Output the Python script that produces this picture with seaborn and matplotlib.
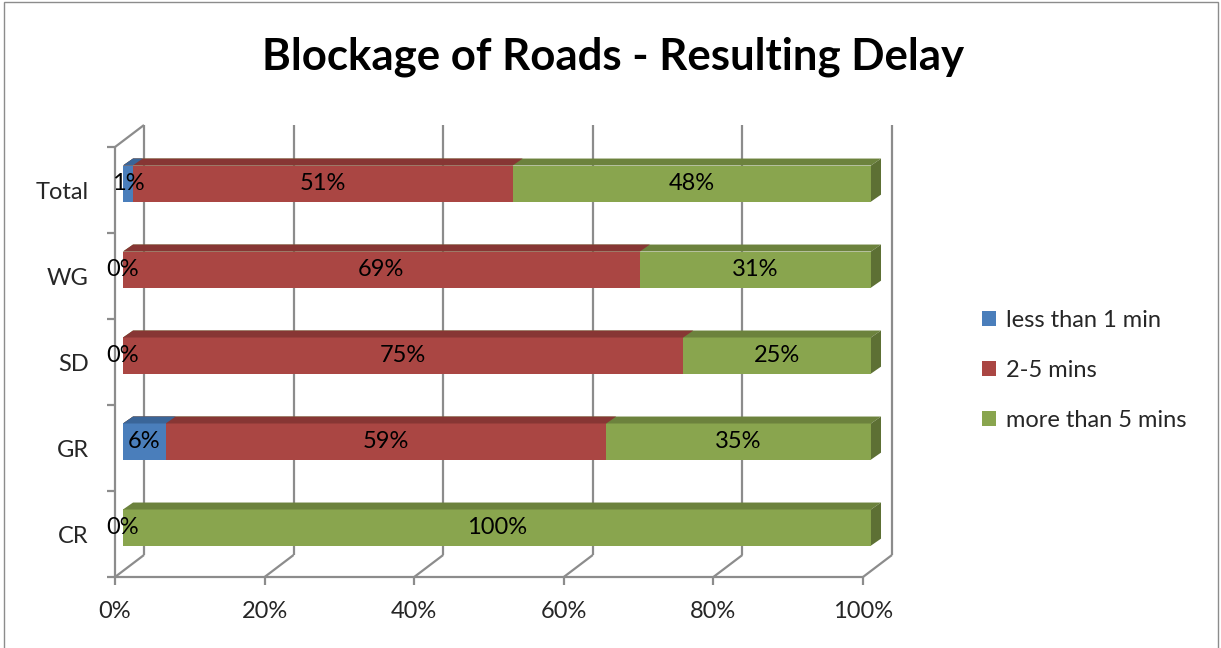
import seaborn as sns
import matplotlib.pyplot as plt
from matplotlib.patches import Polygon, Patch, Rectangle

# Chart data (percent of respondents per area)
categories = ["Total", "WG", "SD", "GR", "CR"]
series_names = ["less than 1 min", "2-5 mins", "more than 5 mins"]
less_than_1 = [1.3, 0.0, 0.0, 5.7, 0.0]
two_to_five = [50.8, 69.1, 74.9, 58.9, 0.0]
more_than_5 = [47.9, 30.9, 25.1, 35.4, 100.0]
x_ticks = [0, 20, 40, 60, 80, 100]
x_tick_labels = ["0%", "20%", "40%", "60%", "80%", "100%"]

# Colours: front face, top face, side face
front_cols = ["#4A7EBB", "#AA4643", "#89A54E"]
top_cols = ["#3A6598", "#873634", "#6C823D"]
side_col = "#5D7034"
frame_col = "#8C8C8C"

sns.set_style("white")
plt.rcParams["font.family"] = ["Lato", "DejaVu Sans"]
fs = 17

fig = plt.figure(figsize=(12.21, 6.48), dpi=100)
ax = fig.add_axes([115 / 1221, 71 / 648, 777 / 1221, 452 / 648])

# 3D depth (data units)
dx, dy = 3.88, -0.256       # back wall offset
ox, oy = 1.07, -0.075       # bar front face offset
tdx, tdy = 1.34, -0.081     # bar depth
bar_h = 0.42

# cumulative layers, drawn largest first so smaller ones sit on top
cum_green = [a + b + c for a, b, c in zip(less_than_1, two_to_five, more_than_5)]
cum_red = [a + b for a, b in zip(less_than_1, two_to_five)]
cum_blue = list(less_than_1)
layers = [cum_green, cum_red, cum_blue]
layer_cols = [2, 1, 0]

for k, (vals, ci) in enumerate(zip(layers, layer_cols)):
    n_before = len(ax.patches)
    sns.barplot(x=vals, y=categories, order=categories, orient="h",
                color=front_cols[ci], saturation=1, width=bar_h, ax=ax, zorder=3)
    for p in ax.patches[n_before:]:
        p.set_x(p.get_x() + ox)
        p.set_y(p.get_y() + oy)
        p.set_edgecolor("none")
        x0, w = p.get_x(), p.get_width()
        ytop = p.get_y()
        ybot = ytop + p.get_height()
        if w > 0:
            ax.add_patch(Polygon([(x0, ytop), (x0 + w, ytop), (x0 + w + tdx, ytop + tdy),
                                  (x0 + tdx, ytop + tdy)], closed=True,
                                 facecolor=top_cols[ci], edgecolor="none", zorder=3))
        if k == 0:
            ax.add_patch(Polygon([(x0 + w, ytop), (x0 + w + tdx, ytop + tdy),
                                  (x0 + w + tdx, ybot + tdy), (x0 + w, ybot)], closed=True,
                                 facecolor=side_col, edgecolor="none", zorder=3))

# value labels centred on each segment
series = [less_than_1, two_to_five, more_than_5]
for i in range(len(categories)):
    left = 0
    drawn = set()
    for s in series:
        v = s[i]
        pos = round(left + v / 2, 2)
        if pos not in drawn:
            ax.text(left + v / 2 + ox, i + oy, f"{round(v)}%", ha="center", va="center",
                    fontsize=fs, color="black", zorder=5)
            drawn.add(pos)
        left += v

# 3D frame
lw = 1.6
kw = dict(color=frame_col, lw=lw, clip_on=False, zorder=1, solid_capstyle="butt")
ax.plot([0, 0], [-0.5, 4.5], **kw)
ax.plot([0, dx], [-0.5, -0.5 + dy], **kw)
ax.plot([0, 100], [4.5, 4.5], **kw)
for t in x_ticks:
    ax.plot([t + dx, t + dx], [4.5 + dy, -0.5 + dy], **kw)
    ax.plot([t, t + dx], [4.5, 4.5 + dy], **kw)
    ax.plot([t, t], [4.5, 4.5 + 8 / 86], **kw)
for b in [-0.5, 0.5, 1.5, 2.5, 3.5, 4.5]:
    ax.plot([0, -8 / 7.48], [b, b], **kw)

ax.set_xlim(0, 100 + dx)
ax.set_ylim(4.5, -0.5 + dy)
ax.set_xticks(x_ticks)
ax.set_xticklabels(x_tick_labels)
ax.set_yticks(range(len(categories)))
ax.set_yticklabels(categories)
ax.tick_params(axis="both", length=0, labelsize=fs)
ax.tick_params(axis="y", pad=19)
ax.tick_params(axis="x", pad=17)
ax.set_xlabel("")
ax.set_ylabel("")
for sp in ax.spines.values():
    sp.set_visible(False)
ax.patch.set_alpha(0)

fig.text(613 / 1221, 1 - 57 / 648, "Blockage of Roads - Resulting Delay",
         ha="center", va="center", fontsize=31.5, fontweight="bold", color="black")

handles = [Patch(facecolor=c, edgecolor="none") for c in front_cols]
fig.legend(handles, series_names, loc="upper left", bbox_to_anchor=(982 / 1221, 1 - 310 / 648),
           frameon=False, fontsize=fs, handlelength=0.6, handleheight=0.6,
           handletextpad=0.4, labelspacing=1.22, borderpad=0, borderaxespad=0)

# chart border
fig.add_artist(Rectangle((4 / 1221, -0.01), 1214 / 1221, 1.0 - 2 / 648 + 0.01,
                         transform=fig.transFigure, fill=False, edgecolor=frame_col, lw=1))

fig.savefig("out.png", dpi=100)
